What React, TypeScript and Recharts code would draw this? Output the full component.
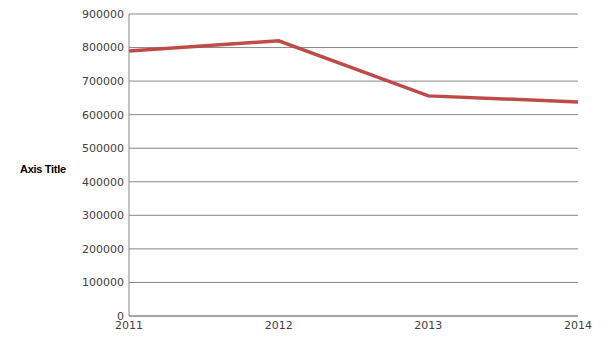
import { LineChart, Line, XAxis, YAxis, CartesianGrid } from "recharts";

const YEARS = ["2011", "2012", "2013", "2014"];
const VALUES = [790000, 820000, 656000, 638000];
const Y_TICKS = [0, 100000, 200000, 300000, 400000, 500000, 600000, 700000, 800000, 900000];

const data = YEARS.map((year, i) => ({ year, value: VALUES[i] }));

const tickStyle = { fontFamily: "DejaVu Sans", fontSize: 11, fill: "#404040" };

export default function App() {
  return (
    <LineChart
      width={598}
      height={333}
      data={data}
      margin={{ top: 6, right: 28, left: 0, bottom: 0 }}
    >
      <CartesianGrid vertical={false} stroke="#868686" strokeWidth={1} />
      <XAxis
        dataKey="year"
        height={25}
        tickLine={false}
        tickSize={5}
        tickMargin={0}
        axisLine={{ stroke: "#868686" }}
        tick={tickStyle}
        interval={0}
      />
      <YAxis
        width={121}
        domain={[0, 900000]}
        ticks={Y_TICKS}
        interval={0}
        tickLine={false}
        tickSize={5}
        tickMargin={0}
        axisLine={{ stroke: "#868686" }}
        tick={tickStyle}
        label={{
          value: "Axis Title",
          position: "insideLeft",
          offset: 12,
          dy: 4,
          style: { fontFamily: "Liberation Sans", fontSize: 11, fontWeight: "bold", fill: "#000", letterSpacing: -0.3 },
        }}
      />
      <Line
        type="linear"
        dataKey="value"
        stroke="#be4b48"
        strokeWidth={3.5}
        dot={false}
        isAnimationActive={false}
      />
    </LineChart>
  );
}
